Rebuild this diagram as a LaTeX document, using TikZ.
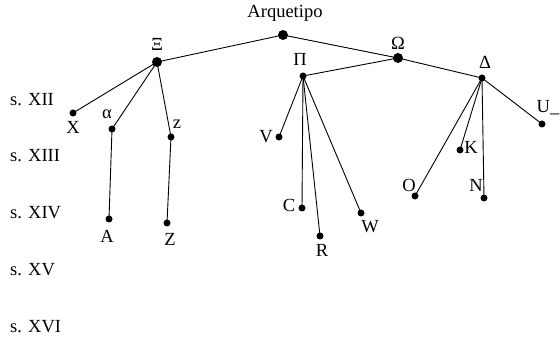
\documentclass[tikz,border=0pt]{standalone}
\usepackage{fontspec}
\setmainfont{Liberation Serif}
\begin{document}
\begin{tikzpicture}[x=1pt,y=1pt,
  big/.style={circle,fill=black,inner sep=0pt,minimum size=10pt},
  small/.style={circle,fill=black,inner sep=0pt,minimum size=7pt},
  lbl/.style={inner sep=0pt,font=\fontsize{18.5}{20}\selectfont},
  edge/.style={line width=0.9pt}]
\useasboundingbox (0,0) rectangle (560,340);
% nodes (y = 340 - pixel y)
\node[big] (arq) at (283,305) {};
\node[big] (xi) at (157,278) {};
\node[big] (om) at (398,282) {};
\node[small] (pi) at (303,264) {};
\node[small] (de) at (482,262) {};
\node[small] (x) at (73,227) {};
\node[small] (al) at (112,211) {};
\node[small] (z) at (171,203) {};
\node[small] (A) at (109,121) {};
\node[small] (Z) at (167,117) {};
\node[small] (V) at (279,203) {};
\node[small] (C) at (302,132) {};
\node[small] (R) at (320,104) {};
\node[small] (W) at (361,127) {};
\node[small] (O) at (415,144) {};
\node[small] (N) at (484,142) {};
\node[small] (K) at (460,190) {};
\node[small] (U) at (542,216) {};
% labels
\node[lbl] (larq) at (285,327) {Arquetipo};
\node[lbl] (lxi) at (157,296) {Ξ};
\node[lbl] (lom) at (398,297) {Ω};
\node[lbl] (lpi) at (300,281) {Π};
\node[lbl] (lde) at (485,278) {Δ};
\node[lbl] (lx) at (73,213) {X};
\node[lbl] (lal) at (107,226) {α};
\node[lbl] (lz) at (177,216) {z};
\node[lbl] (lA) at (107,104) {A};
\node[lbl] (lZ) at (170,101) {Z};
\node[lbl] (lV) at (266,203) {V};
\node[lbl] (lC) at (289,135) {C};
\node[lbl] (lR) at (322,90) {R};
\node[lbl] (lW) at (370,113) {W};
\node[lbl] (lO) at (409,155) {O};
\node[lbl] (lN) at (476,155) {N};
\node[lbl] (lK) at (471,193) {K};
\node[lbl,anchor=east] (lU) at (559.5,232) {U\_};
% centuries
\node[lbl,anchor=west] (s12) at (10,240) {s. XII};
\node[lbl,anchor=west] (s13) at (10,184) {s. XIII};
\node[lbl,anchor=west] (s14) at (10,127) {s. XIV};
\node[lbl,anchor=west] (s15) at (10,70) {s. XV};
\node[lbl,anchor=west] (s16) at (10,13) {s. XVI};
% edges
\draw[edge] (xi.center) -- (arq.center) -- (om.center);
\draw[edge] (pi.center) -- (om.center) -- (de.center);
\draw[edge] (xi.center) -- (x.center);
\draw[edge] (xi.center) -- (al.center) -- (A.center);
\draw[edge] (xi.center) -- (z.center) -- (Z.center);
\draw[edge] (pi.center) -- (V.center);
\draw[edge] (pi.center) -- (C.center);
\draw[edge] (pi.center) -- (R.center);
\draw[edge] (pi.center) -- (W.center);
\draw[edge] (de.center) -- (O.center);
\draw[edge] (de.center) -- (K.center);
\draw[edge] (de.center) -- (N.center);
\draw[edge] (de.center) -- (U.center);
\end{tikzpicture}
\end{document}
